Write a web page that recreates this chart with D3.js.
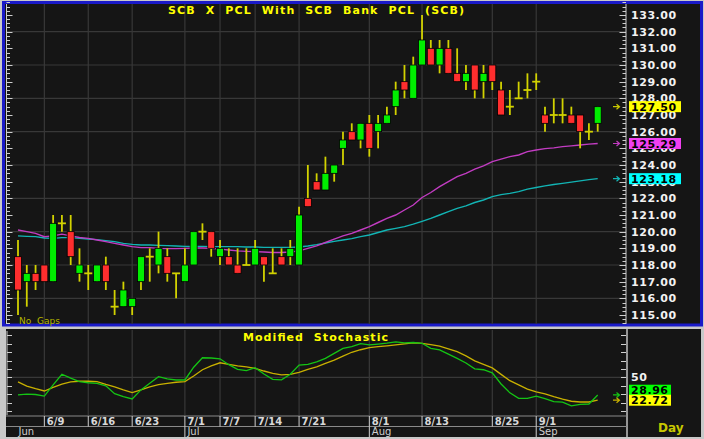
<!DOCTYPE html>
<html><head><meta charset="utf-8">
<script src="https://cdn.jsdelivr.net/npm/d3@7"></script>
<style>html,body{margin:0;padding:0;background:#c8c8c8;overflow:hidden}svg{display:block}text{white-space:pre}</style>
</head><body><svg id="c" width="704" height="439"></svg>
<script>
// ---------- DATA ----------
const dates = ["6/4","6/5","6/6","6/9","6/10","6/11","6/12","6/13","6/16","6/17","6/18","6/19","6/20","6/23","6/24","6/25","6/26","6/27","6/30","7/1","7/2","7/3","7/4","7/7","7/8","7/9","7/10","7/14","7/15","7/16","7/17","7/18","7/21","7/22","7/23","7/24","7/25","7/28","7/29","7/30","8/1","8/4","8/5","8/6","8/7","8/8","8/13","8/14","8/15","8/18","8/19","8/20","8/21","8/22","8/25","8/26","8/27","8/28","8/29","9/1","9/2","9/3","9/4","9/5","9/8","9/9","9/10"];
const open = [118.5,117,117.5,118,117,120.5,120,117.5,117.5,117,
  118,115.5,115.5,115.5,117,118.5,118,118.5,117.5,117,
  118,120,120,118.5,118.5,118,118,118,118.5,117.5,
  118.5,118.5,118,122,123,122.5,123.5,125,126,125.5,
  126.5,126,126.5,127.5,129,128,130,131,130,131,
  129.5,129,130,129,130,128.5,127.5,128,128.5,129,
  127,127,127,127,127,126,126.5];
const high = [119.5,118,118,118,121,121,121,119,118,118,
  118.5,116.5,117,116,118.5,119,120,119,117.5,119,
  120,120.5,120,119.5,119,119,119,119.5,118.5,119,
  119,119.5,121.5,124,123.5,124.5,124,126,126.5,126.5,
  127,127,127.5,129,130,130.5,133,131.5,131.5,131.5,
  131,130,130,130,130,129,128.5,129,129.5,129.5,
  127.5,128,128,127.5,127,126.5,127.5];
const low = [115,115.5,116.5,117,117,120,118,117,116.5,117,
  116.5,115,115.5,115,116.5,117,117.5,117,116,117,
  118,119.5,118.5,118,118,117.5,118,118,117,117.5,
  118,118,118,121.5,122.5,122.5,123,124,125.5,125,
  124.5,125,126.5,127,128,128,130,130,129.5,129.5,
  129,128.5,128,128,128.5,127,127,128,128,128.5,
  126,126.5,126.5,126.5,125,125.5,126];
const close = [116.5,117.5,117,117,120.5,120.5,118.5,118,117.5,118,
  117,115.5,116.5,116,118.5,118.5,119,117.5,117.5,118,
  120,120,119,119,118,117.5,118,119,118,117.5,
  118,119,121,121.5,122.5,123.5,124,125.5,125.5,126.5,
  125,126.5,127,128.5,128.5,130,131.5,130,131,129.5,
  129,129.5,128.5,129.5,129,127,127.5,128,128.5,129,
  126.5,127,127,126.5,126,126,127.5];
const maFast = [120.1,120.0,119.9,119.7,119.75,119.85,119.75,119.65,119.6,119.5,
  119.4,119.3,119.2,119.1,119.04,119.04,119.0,118.98,118.98,119.0,
  119.02,119.02,119.0,118.95,118.9,118.85,118.82,118.8,118.78,118.75,
  118.75,118.78,118.85,119.0,119.15,119.35,119.55,119.75,119.9,120.1,
  120.3,120.55,120.8,121.0,121.3,121.6,122.05,122.35,122.7,123.0,
  123.3,123.5,123.75,123.95,124.2,124.35,124.5,124.6,124.8,124.9,
  124.98,125.03,125.1,125.15,125.2,125.25,125.29];
const maSlow = [119.75,119.72,119.7,119.62,119.6,119.64,119.64,119.6,119.56,119.52,
  119.46,119.4,119.3,119.24,119.2,119.2,119.18,119.16,119.14,119.12,
  119.12,119.12,119.1,119.1,119.1,119.1,119.08,119.08,119.06,119.06,
  119.06,119.06,119.08,119.14,119.22,119.32,119.42,119.5,119.58,119.7,
  119.8,119.95,120.1,120.2,120.3,120.45,120.62,120.8,121.0,121.2,
  121.4,121.55,121.75,121.9,122.1,122.22,122.3,122.4,122.55,122.65,
  122.75,122.83,122.9,122.97,123.05,123.12,123.18];
const stochK = [29,30,29.5,27.7,41,53.6,49,44.8,43.5,42.8,
  39.8,30.5,27,24.2,35,43,50.7,48,46.8,46.8,
  62,73.3,73,72,65,59.5,58,61.4,54,47.6,
  47,53.6,64.6,65.5,68.5,72.5,78.5,84.5,86.5,90,
  88.5,89.5,90.7,92.2,91,91.4,90.5,84.4,82.6,77.5,
  72.5,67,60,59,55.3,42,31.5,25,25,27.5,
  24.5,21,20.5,16,17.8,18.2,28.96];
const stochD = [44.6,39.6,36.5,33.7,38,42,44.5,45.3,45.3,44.8,
  41.5,38.5,35,31.9,35,38.5,41.2,42.8,44.1,44.8,
  51.5,59,63.5,67.3,65.5,63.7,62.5,60.7,57.5,54.8,
  52.8,53.6,56,59.5,62.5,66.5,70.5,75.2,79.8,82.8,
  85.3,86.5,87.5,88.7,89.9,91.1,90.5,88.8,87.1,83.8,
  80.5,75.5,69.5,65.3,61.2,53.5,46,41,36,32.7,
  30.3,27,24,21.5,20.6,20.6,22.72];
const tickDates = ["6/9","6/16","6/23","7/1","7/7","7/14","7/21","8/1","8/13","8/25","9/1"];
const monthLabels = ["Jun","Jul","Aug","Sep"];
const monthStarts = ["6/4","7/1","8/1","9/1"];
const priceTicks = [115,116,117,118,119,120,121,122,123,124,125,126,127,128,129,130,131,132,133];
const priceGrid = [116,118,120,122,124,126,128,130,132];
const title = "SCB  X  PCL  With  SCB  Bank  PCL  (SCB)";
const subTitle = "Modified  Stochastic";

// ---------- SETUP ----------
const svg = d3.select("#c");
const FONT = "'DejaVu Sans', Verdana, sans-serif";
const BG = "#151515", GRID = "#383838", TICK = "#cfcfcf";
const x = d3.scalePoint().domain(dates).range([18, 597.7]);
const y = d3.scaleLinear().domain([115, 133]).range([315, 15]);
const yS = d3.scaleLinear().domain([0, 100]).range([419.3, 335.3]);

// panels
svg.append("rect").attr("x",0).attr("y",0).attr("width",704).attr("height",439).attr("fill","#c8c8c8");
svg.append("rect").attr("x",3.5).attr("y",2.5).attr("width",698).attr("height",322.5)
  .attr("fill",BG).attr("stroke","#1a1ac8").attr("stroke-width",3);
svg.append("rect").attr("x",6).attr("y",329).attr("width",695).attr("height",108).attr("fill",BG);

// ---------- MAIN PANEL ----------
const g = svg.append("g");
// grid
g.selectAll(".hg").data(priceGrid).join("line")
  .attr("x1",7).attr("x2",626).attr("y1",d=>y(d)).attr("y2",d=>y(d))
  .attr("stroke",GRID).attr("stroke-width",1.2);
g.selectAll(".vg").data(tickDates).join("line")
  .attr("x1",d=>x(d)).attr("x2",d=>x(d)).attr("y1",4).attr("y2",324)
  .attr("stroke",GRID).attr("stroke-width",1.2);

// axis ticks left & right
const minor = d3.range(114.5, 133.76, 0.25);
g.append("line").attr("x1",6.5).attr("x2",6.5).attr("y1",4).attr("y2",324).attr("stroke",TICK);
g.selectAll(".lt").data(minor).join("line")
  .attr("x1",6.5).attr("x2",d=>Number.isInteger(d)?12.5:10).attr("y1",d=>Math.round(y(d))+0.5).attr("y2",d=>Math.round(y(d))+0.5)
  .attr("stroke",TICK);
g.append("line").attr("x1",626).attr("x2",626).attr("y1",4).attr("y2",324).attr("stroke",TICK);
g.selectAll(".rt").data(minor).join("line")
  .attr("x1",626).attr("x2",d=>Number.isInteger(d)?619.5:622.5).attr("y1",d=>Math.round(y(d))+0.5).attr("y2",d=>Math.round(y(d))+0.5)
  .attr("stroke",TICK);

// price labels
g.selectAll(".pl").data(priceTicks).join("text")
  .attr("x",631).attr("y",d=>y(d)+4).text(d=>d.toFixed(2))
  .attr("font-family",FONT).attr("font-weight","bold").attr("font-size",11).attr("letter-spacing",0.55)
  .attr("fill","#f2f2f2");

// moving averages
const line = d3.line().x((d,i)=>x(dates[i])).y(d=>y(d));
g.append("path").attr("d",line(maSlow)).attr("fill","none").attr("stroke","#12b4b4").attr("stroke-width",1.4);
g.append("path").attr("d",line(maFast)).attr("fill","none").attr("stroke","#c23cc2").attr("stroke-width",1.4);

// candles
const idx = d3.range(dates.length);
const WICK = "#d2d200";
g.selectAll(".wk").data(idx).join("line")
  .attr("x1",i=>x(dates[i])).attr("x2",i=>x(dates[i]))
  .attr("y1",i=>y(high[i])).attr("y2",i=>y(low[i]))
  .attr("stroke",WICK).attr("stroke-width",1.8);
g.selectAll(".bd").data(idx.filter(i=>open[i]!==close[i])).join("rect")
  .attr("x",i=>x(dates[i])-3.5).attr("width",7)
  .attr("y",i=>y(Math.max(open[i],close[i])))
  .attr("height",i=>Math.abs(y(open[i])-y(close[i])))
  .attr("fill",i=>close[i]>open[i]?"#00ee00":"#ff2e2e")
  .attr("stroke","#000").attr("stroke-width",0.8);
g.selectAll(".dj").data(idx.filter(i=>open[i]===close[i])).join("line")
  .attr("x1",i=>x(dates[i])-4).attr("x2",i=>x(dates[i])+4)
  .attr("y1",i=>y(close[i])).attr("y2",i=>y(close[i]))
  .attr("stroke",WICK).attr("stroke-width",1.8);

// arrows + tags
function arrow(sel, yy, col){
  sel.append("path").attr("d",`M613,${yy} H619.5 M616.5,${yy-2.5} L619.5,${yy} L616.5,${yy+2.5}`)
    .attr("fill","none").attr("stroke",col).attr("stroke-width",1.2);
}
function tag(sel, yy, txt, bg, w){
  sel.append("rect").attr("x",629).attr("y",yy-5.5).attr("width",w).attr("height",11).attr("fill",bg);
  sel.append("text").attr("x",631).attr("y",yy+4).text(txt)
    .attr("font-family",FONT).attr("font-weight","bold").attr("font-size",11).attr("letter-spacing",0.55).attr("fill","#000");
}
const last = dates.length-1;
[[close[last],"#ffff00","#c8c800"],[maFast[last],"#f040f0","#c23cc2"],[maSlow[last],"#00ffff","#12b4b4"]].forEach(([v,bg,ac])=>{
  arrow(g, y(v), ac);
  tag(g, y(v), v.toFixed(2), bg, 52);
});

// titles
g.append("text").attr("x",168).attr("y",13.5).text(title)
  .attr("font-family",FONT).attr("font-weight","bold").attr("font-size",11)
  .attr("textLength",296).attr("lengthAdjust","spacing").attr("fill","#ffff00");
g.append("text").attr("x",19).attr("y",323.5).text("No  Gaps")
  .attr("font-family",FONT).attr("font-size",9).attr("fill","#b4b400");

// ---------- STOCHASTIC PANEL ----------
const s = svg.append("g");
s.append("line").attr("x1",7).attr("x2",627).attr("y1",yS(50)).attr("y2",yS(50)).attr("stroke",GRID).attr("stroke-width",1.2);
s.selectAll(".svg").data(tickDates).join("line")
  .attr("x1",d=>x(d)).attr("x2",d=>x(d)).attr("y1",330).attr("y2",415)
  .attr("stroke",GRID).attr("stroke-width",1.2);
const sTicks = d3.range(10, 101, 10);
s.append("line").attr("x1",7).attr("x2",7).attr("y1",331).attr("y2",415).attr("stroke",TICK);
s.selectAll(".slt").data(sTicks).join("line")
  .attr("x1",7).attr("x2",12).attr("y1",d=>Math.round(yS(d))+0.5).attr("y2",d=>Math.round(yS(d))+0.5).attr("stroke",TICK);
s.selectAll(".srt").data(sTicks).join("line")
  .attr("x1",626).attr("x2",621).attr("y1",d=>Math.round(yS(d))+0.5).attr("y2",d=>Math.round(yS(d))+0.5).attr("stroke",TICK);
s.append("line").attr("x1",627).attr("x2",627).attr("y1",329).attr("y2",437).attr("stroke","#c0c0c0").attr("stroke-width",1.5);

const sline = d3.line().x((d,i)=>x(dates[i])).y(d=>yS(d));
s.append("path").attr("d",sline(stochD)).attr("fill","none").attr("stroke","#c8b000").attr("stroke-width",1.3);
s.append("path").attr("d",sline(stochK)).attr("fill","none").attr("stroke","#14c414").attr("stroke-width",1.3);

s.append("text").attr("x",243).attr("y",341).text(subTitle)
  .attr("font-family",FONT).attr("font-weight","bold").attr("font-size",11)
  .attr("textLength",145).attr("lengthAdjust","spacing").attr("fill","#ffff00");

s.append("text").attr("x",631).attr("y",yS(50)+4).text("50")
  .attr("font-family",FONT).attr("font-weight","bold").attr("font-size",11).attr("letter-spacing",0.55).attr("fill","#f2f2f2");
const kv = stochK[last], dv = stochD[last];
const dY = yS(dv), kY = Math.min(yS(kv), dY - 10);
arrow(s, yS(kv), "#14c414");
arrow(s, yS(dv), "#c8b000");
tag(s, kY, kv.toFixed(2), "#00ff00", 42);
tag(s, dY, dv.toFixed(2), "#ffff00", 42);

// ---------- DATE AXIS ----------
const a = svg.append("g");
a.append("line").attr("x1",6).attr("x2",627).attr("y1",416).attr("y2",416).attr("stroke","#8a8a8a");
a.append("line").attr("x1",6).attr("x2",627).attr("y1",426.5).attr("y2",426.5).attr("stroke","#8a8a8a");
a.selectAll(".dt").data(tickDates).join("line")
  .attr("x1",d=>x(d)).attr("x2",d=>x(d)).attr("y1",416).attr("y2",426.5).attr("stroke","#d0d0d0");
a.selectAll(".dl").data(tickDates).join("text")
  .attr("x",d=>x(d)+2.5).attr("y",425).text(d=>d)
  .attr("font-family",FONT).attr("font-weight","bold").attr("font-size",10).attr("fill","#d8d8d8");
a.selectAll(".ms").data(monthStarts.slice(1)).join("line")
  .attr("x1",d=>x(d)).attr("x2",d=>x(d)).attr("y1",426.5).attr("y2",437).attr("stroke","#d0d0d0");
a.selectAll(".ml").data(monthLabels).join("text")
  .attr("x",(d,i)=>x(monthStarts[i])+(i===0?0.5:2.5)).attr("y",434.5).text(d=>d)
  .attr("font-family",FONT).attr("font-size",10).attr("fill","#d0d0d0");
a.append("text").attr("x",658).attr("y",431.5).text("Day")
  .attr("font-family",FONT).attr("font-weight","bold").attr("font-size",12).attr("fill","#c8c800");
</script></body></html>
